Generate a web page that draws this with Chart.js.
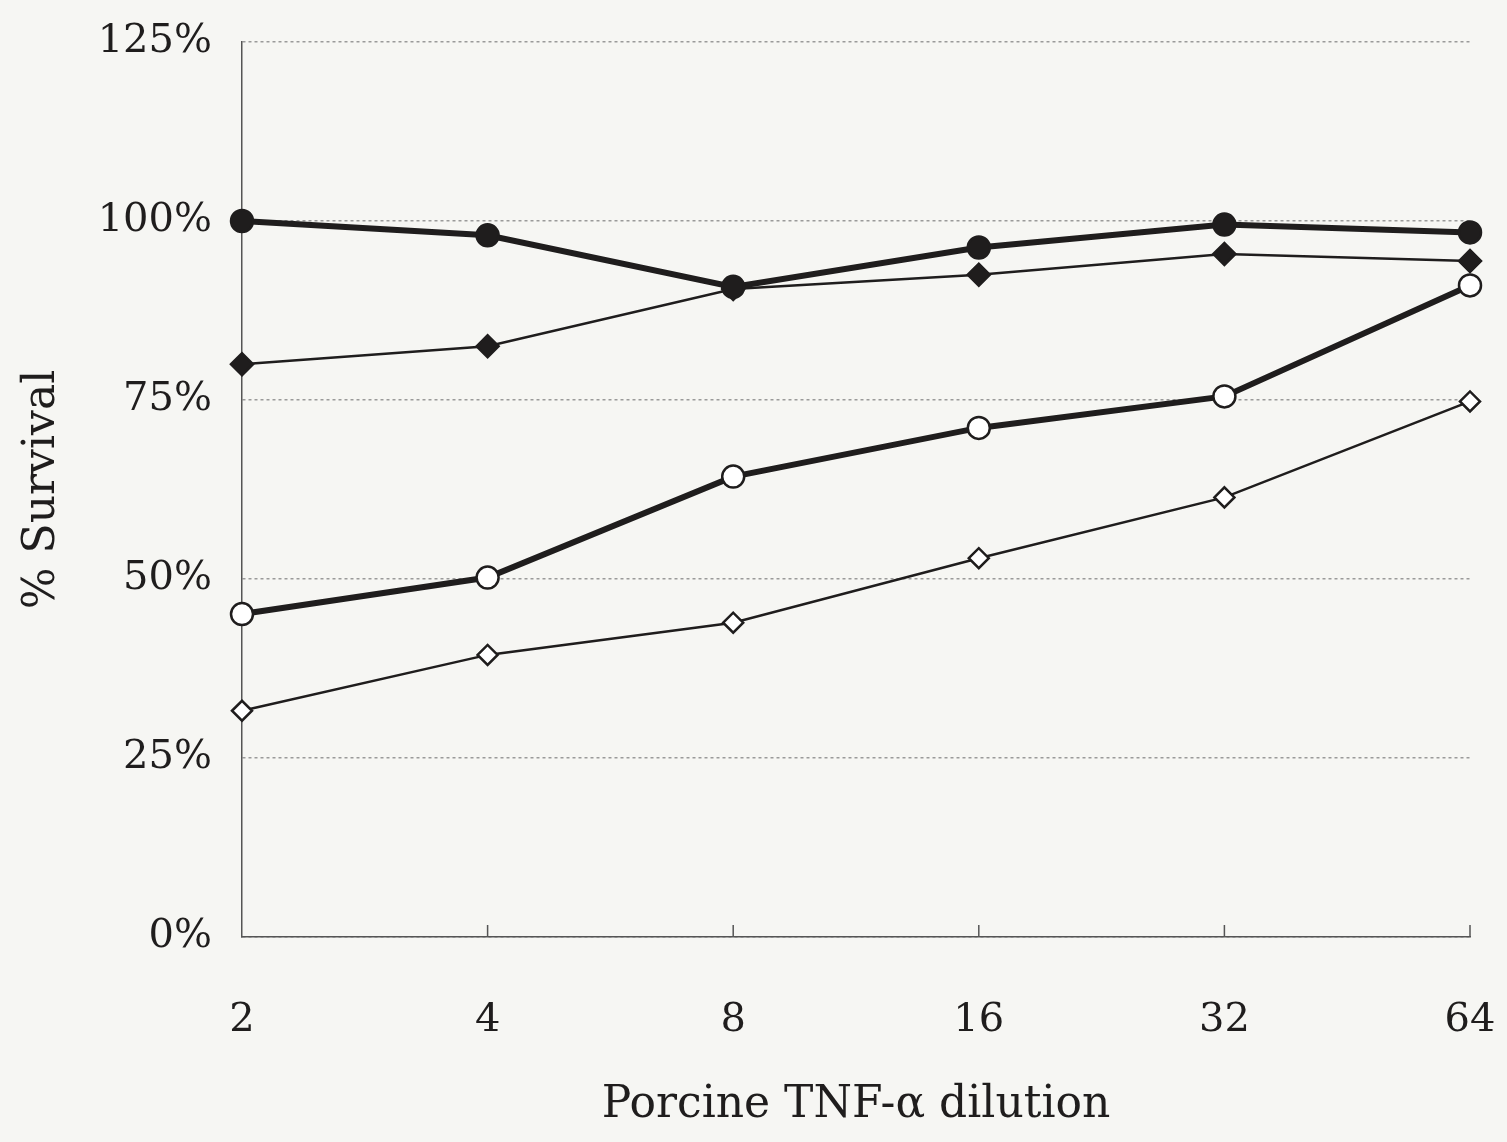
<!DOCTYPE html>
<html>
<head>
<meta charset="utf-8">
<script src="https://cdn.jsdelivr.net/npm/chart.js@4/dist/chart.umd.min.js"></script>
<style>
  html, body { margin: 0; padding: 0; background: #f6f6f3; }
  #wrap { width: 1507px; height: 1142px; }
</style>
</head>
<body>
<div id="wrap"><canvas id="survChart"></canvas></div>
<script>
const dilutions = ['2', '4', '8', '16', '32', '64'];

// % survival
const filledCircle = [100, 98, 90.8, 96.3, 99.5, 98.4];
const filledDiamond = [80, 82.5, 90.5, 92.5, 95.4, 94.4];
const openCircle = [45.1, 50.2, 64.3, 71.1, 75.5, 91];
const openDiamond = [31.6, 39.4, 43.9, 52.9, 61.4, 74.8];

const serif = '"DejaVu Serif", "Liberation Serif", serif';
const ink = '#1f1d1d';

// small upward tick marks on the x axis, like the original
const upTicks = {
    id: 'upTicks',
    afterDatasetsDraw(chart) {
        const x = chart.scales.x;
        const ctx = chart.ctx;
        ctx.save();
        ctx.strokeStyle = '#555';
        ctx.lineWidth = 1.5;
        for (let i = 1; i < dilutions.length; i++) {
            const px = x.getPixelForTick(i);
            ctx.beginPath();
            ctx.moveTo(px, x.top);
            ctx.lineTo(px, x.top - 12);
            ctx.stroke();
        }
        ctx.restore();
    }
};

function series(data, style, width, radius) {
    return {
        data,
        borderColor: ink,
        borderWidth: width,
        pointStyle: style.shape,
        pointRadius: radius,
        pointBackgroundColor: style.fill,
        pointBorderColor: ink,
        pointBorderWidth: 2.5,
        tension: 0
    };
}

new Chart(document.getElementById('survChart'), {
    type: 'line',
    data: {
        labels: dilutions,
        datasets: [
            series(filledCircle, { shape: 'circle', fill: ink }, 6, 11),
            series(filledDiamond, { shape: 'rectRot', fill: ink }, 2.5, 11),
            series(openCircle, { shape: 'circle', fill: '#fff' }, 6, 11),
            series(openDiamond, { shape: 'rectRot', fill: '#fff' }, 2.5, 10)
        ]
    },
    plugins: [upTicks],
    options: {
        responsive: true,
        maintainAspectRatio: false,
        animation: false,
        layout: { padding: { left: 12, right: 37, top: 42, bottom: 6 } },
        plugins: {
            legend: { display: false },
            tooltip: { enabled: false }
        },
        scales: {
            x: {
                offset: false,
                afterFit: s => {
                    s.height = 199;
                    s.paddingLeft = 0;
                    s.paddingRight = 0;
                },
                grid: { display: false, drawTicks: false },
                border: { display: true, color: '#555', width: 1.5 },
                ticks: {
                    color: ink,
                    padding: 60,
                    maxRotation: 0,
                    font: { family: serif, size: 40 }
                },
                title: {
                    display: true,
                    text: 'Porcine TNF-α dilution',
                    color: ink,
                    padding: { top: 0, bottom: 4 },
                    font: { family: serif, size: 44 }
                }
            },
            y: {
                min: 0,
                max: 125,
                afterFit: s => {
                    s.width = 230;
                    s.paddingTop = 0;
                    s.paddingBottom = 0;
                },
                grid: {
                    drawTicks: false,
                    color: '#9a9a9a',
                    lineWidth: 1.5
                },
                border: { display: true, color: '#555', width: 1.5, dash: [3, 3] },
                ticks: {
                    stepSize: 25,
                    color: ink,
                    padding: 30,
                    font: { family: serif, size: 40 },
                    callback: v => v + '%'
                },
                title: {
                    display: true,
                    text: '% Survival',
                    color: ink,
                    padding: { top: 4, bottom: 4 },
                    font: { family: serif, size: 44 }
                }
            }
        }
    }
});
</script>
</body>
</html>
